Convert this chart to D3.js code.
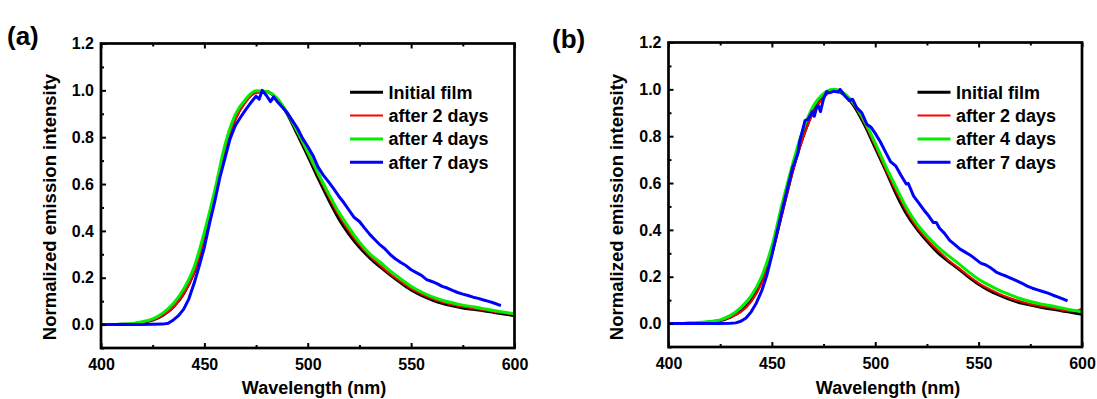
<!DOCTYPE html>
<html>
<head>
<meta charset="utf-8">
<script src="https://cdn.jsdelivr.net/npm/d3@7"></script>
<style>
  html, body { margin: 0; padding: 0; background: #fff; }
  svg { display: block; font-family: "Liberation Sans", Arial, sans-serif; font-weight: bold; }
</style>
</head>
<body>
<svg id="chart" width="1097" height="399"></svg>
<script>
// ---- data ----------------------------------------------------------------
const seriesNames  = ["Initial film", "after 2 days", "after 4 days", "after 7 days"];
const xTicks       = [400, 450, 500, 550, 600];
const xMinorTicks  = [425, 475, 525, 575];
const yTicks       = [0.0, 0.2, 0.4, 0.6, 0.8, 1.0, 1.2];
const yMinorTicks  = [-0.1, 0.1, 0.3, 0.5, 0.7, 0.9, 1.1];

// common 5 nm grid for the smooth spectra
const wavelength = [400,405,410,415,420,425,430,435,440,445,450,455,460,465,470,475,480,485,490,495,
                    500,505,510,515,520,525,530,535,540,545,550,555,560,565,570,575,580,585,590,595,600];

// film (a)
const initialA = [0,0,0.001,0.003,0.009,0.019,0.040,0.075,0.132,0.222,0.362,0.545,0.740,0.880,0.955,0.992,0.995,0.965,0.900,0.812,
                  0.720,0.625,0.535,0.452,0.385,0.330,0.285,0.246,0.211,0.178,0.148,0.125,0.106,0.091,0.080,0.071,0.065,0.059,0.052,0.045,0.038];
const day2A    = [0,0,0.001,0.003,0.009,0.019,0.040,0.075,0.132,0.220,0.360,0.540,0.735,0.875,0.950,0.990,0.995,0.968,0.905,0.820,
                  0.730,0.637,0.548,0.466,0.398,0.340,0.292,0.253,0.215,0.183,0.153,0.130,0.111,0.096,0.085,0.076,0.069,0.062,0.055,0.049,0.043];
const day4A    = [0,0,0.001,0.004,0.012,0.024,0.050,0.090,0.152,0.245,0.395,0.572,0.768,0.897,0.963,0.998,0.995,0.967,0.905,0.825,
                  0.737,0.647,0.560,0.480,0.413,0.352,0.302,0.266,0.228,0.195,0.164,0.139,0.119,0.104,0.093,0.083,0.076,0.068,0.060,0.053,0.046];
const wavelength7A = [400,410,420,425,430,432.5,435,437.5,440,442.5,445,447.5,450,452.5,455,457.5,460,462.5,465,467.5,
                      470,472.5,475,476.5,478,480,482,483.5,485,487.5,490,492.5,495,497.5,500,502.5,505,507.5,510,512.5,
                      515,517.5,520,522.5,525,527.5,530,532.5,535,537.5,540,542.5,545,547.5,550,552.5,555,557.5,560,562.5,
                      565,567.5,570,572.5,575,577.5,580,582.5,585,587.5,590,592.5,593.5];
const day7A    = [0,0,0,0.001,0.002,0.006,0.020,0.038,0.066,0.110,0.175,0.250,0.330,0.432,0.525,0.628,0.712,0.795,0.850,0.885,
                  0.918,0.948,0.975,0.962,1.000,0.978,0.952,0.972,0.955,0.930,0.905,0.872,0.838,0.795,0.760,0.722,0.672,0.638,0.610,0.580,
                  0.548,0.520,0.488,0.457,0.440,0.412,0.385,0.362,0.340,0.322,0.298,0.280,0.265,0.252,0.234,0.222,0.210,0.192,0.184,0.175,
                  0.163,0.156,0.146,0.137,0.130,0.124,0.117,0.112,0.105,0.099,0.092,0.084,0.083];

// film (b)
const initialB = [0,0,0.001,0.003,0.007,0.013,0.028,0.053,0.098,0.178,0.300,0.475,0.650,0.795,0.905,0.970,0.995,0.978,0.925,0.845,
                  0.750,0.655,0.555,0.470,0.405,0.352,0.305,0.268,0.235,0.200,0.168,0.142,0.121,0.103,0.089,0.079,0.070,0.062,0.055,0.047,0.040];
const day2B    = [0,0,0.001,0.003,0.007,0.013,0.027,0.050,0.094,0.172,0.295,0.470,0.645,0.790,0.900,0.965,0.993,0.980,0.930,0.852,
                  0.758,0.660,0.567,0.482,0.413,0.360,0.315,0.274,0.240,0.205,0.173,0.148,0.127,0.109,0.095,0.084,0.075,0.067,0.059,0.052,0.064];
const day4B    = [0,0,0.002,0.005,0.009,0.016,0.035,0.068,0.118,0.200,0.330,0.512,0.680,0.825,0.928,0.982,1.000,0.982,0.935,0.862,
                  0.770,0.673,0.583,0.497,0.428,0.375,0.330,0.292,0.258,0.222,0.189,0.164,0.142,0.124,0.107,0.094,0.084,0.076,0.067,0.058,0.050];
const wavelength7B = [400,410,420,425,430,432.5,435,437.5,440,442.5,445,447.5,450,452.5,455,457.5,460,461.5,462.5,463.5,
                      465,466,467.5,468.5,469.5,470.5,471.5,472.5,473.5,475,476.5,478,480,482,483,485,487.5,489,491,493.5,
                      496,498,500,502.5,505,507.5,510,512.5,515,516,518.5,521,523.5,526,528,529.5,531,533.5,536,538.5,
                      541,543.5,546,548.5,551,553.5,556,558.5,561,563.5,566,568.5,571,573.5,576,578.5,581,583.5,586,588.5,591,593];
const day7B    = [0,0,0,0,0.001,0.003,0.010,0.024,0.050,0.088,0.138,0.204,0.292,0.390,0.485,0.575,0.665,0.700,0.725,0.780,
                  0.830,0.866,0.872,0.888,0.905,0.885,0.918,0.930,0.905,0.960,0.990,0.985,0.992,0.988,1.000,0.975,0.952,0.958,0.922,0.900,
                  0.850,0.838,0.812,0.775,0.732,0.690,0.672,0.632,0.596,0.598,0.545,0.515,0.485,0.458,0.432,0.432,0.408,0.385,0.355,0.337,
                  0.318,0.305,0.292,0.275,0.258,0.250,0.237,0.220,0.210,0.202,0.192,0.182,0.172,0.160,0.151,0.144,0.137,0.130,0.121,0.113,0.104,0.097];

// ---- styling ---------------------------------------------------------------
const seriesStyle = [
  { color: "#000000", width: 3.0, smooth: true },
  { color: "#ff0000", width: 2.0, smooth: true },
  { color: "#00ee00", width: 3.0, smooth: true },
  { color: "#0000ff", width: 3.0, smooth: false }
];

const zip = (xs, ys) => xs.map((x, i) => ({ x, y: ys[i] }));

const panels = [
  { id: "a", label: "(a)", left: 101, top: 43.5, labelX: 7, labelY: 45,
    xTitleX: 314, yTitleY: 207,
    legendX: 350,
    series: [zip(wavelength, initialA), zip(wavelength, day2A), zip(wavelength, day4A), zip(wavelength7A, day7A)] },
  { id: "b", label: "(b)", left: 668.5, top: 42.5, labelX: 552, labelY: 48,
    xTitleX: 888, yTitleY: 207,
    legendX: 917.5,
    series: [zip(wavelength, initialB), zip(wavelength, day2B), zip(wavelength, day4B), zip(wavelength7B, day7B)] }
];

const plotW = 413.5, plotH = 304.5;
const svg = d3.select("#chart");

panels.forEach(p => {
  const x = d3.scaleLinear().domain([400, 600]).range([0, plotW]);
  const y = d3.scaleLinear().domain([-0.1, 1.2]).range([plotH, 0]);

  const g = svg.append("g").attr("transform", `translate(${p.left},${p.top})`);

  g.append("clipPath").attr("id", "clip-" + p.id)
    .append("rect").attr("width", plotW).attr("height", plotH);

  // spectra
  const plot = g.append("g").attr("clip-path", `url(#clip-${p.id})`);
  p.series.forEach((pts, i) => {
    const st = seriesStyle[i];
    const line = d3.line().x(d => x(d.x)).y(d => y(d.y))
      .curve(st.smooth ? d3.curveMonotoneX : d3.curveLinear);
    plot.append("path").datum(pts)
      .attr("d", line)
      .attr("fill", "none")
      .attr("stroke", st.color)
      .attr("stroke-width", st.width)
      .attr("stroke-linejoin", "round");
  });

  // axes, ticks pointing inward
  const styleAxis = sel => {
    sel.select(".domain").remove();
    sel.selectAll(".tick line").attr("stroke", "#000").attr("stroke-width", 2);
    sel.selectAll("text").attr("fill", "#000").attr("font-size", 16)
      .attr("font-family", "Liberation Sans, Arial, sans-serif").attr("font-weight", "bold");
  };

  g.append("g").attr("transform", `translate(0,${plotH})`)
    .call(d3.axisBottom(x).tickValues(xTicks).tickSize(-5).tickPadding(11).tickFormat(d3.format("d")))
    .call(styleAxis);
  g.append("g").attr("transform", `translate(0,${plotH})`)
    .call(d3.axisBottom(x).tickValues(xMinorTicks).tickSize(-3).tickFormat(""))
    .call(styleAxis);
  g.append("g")
    .call(d3.axisTop(x).tickValues(xTicks).tickSize(-5).tickFormat(""))
    .call(styleAxis);
  g.append("g")
    .call(d3.axisTop(x).tickValues(xMinorTicks).tickSize(-3).tickFormat(""))
    .call(styleAxis);
  g.append("g")
    .call(d3.axisLeft(y).tickValues(yTicks).tickSize(-5).tickPadding(7).tickFormat(d3.format(".1f")))
    .call(styleAxis);
  g.append("g")
    .call(d3.axisLeft(y).tickValues(yMinorTicks).tickSize(-3).tickFormat(""))
    .call(styleAxis);

  // frame
  g.append("rect").attr("width", plotW).attr("height", plotH)
    .attr("fill", "none").attr("stroke", "#000").attr("stroke-width", 2.7);

  // legend
  const leg = svg.append("g");
  seriesNames.forEach((name, i) => {
    const cy = 92.3 + i * 23.3;
    leg.append("line")
      .attr("x1", p.legendX).attr("x2", p.legendX + 33)
      .attr("y1", cy).attr("y2", cy)
      .attr("stroke", seriesStyle[i].color).attr("stroke-width", seriesStyle[i].width);
    leg.append("text")
      .attr("x", p.legendX + 38.5).attr("y", cy + 6.4)
      .attr("font-size", 18).text(name);
  });

  // axis titles
  svg.append("text").attr("x", p.xTitleX).attr("y", 394)
    .attr("text-anchor", "middle").attr("font-size", 18).text("Wavelength (nm)");
  svg.append("text")
    .attr("transform", `translate(${p.left - 45.5},${p.yTitleY}) rotate(-90)`)
    .attr("text-anchor", "middle").attr("font-size", 18.5).text("Normalized emission intensity");

  // panel label
  svg.append("text").attr("x", p.labelX).attr("y", p.labelY)
    .attr("font-size", 26).text(p.label);
});
</script>
</body>
</html>
